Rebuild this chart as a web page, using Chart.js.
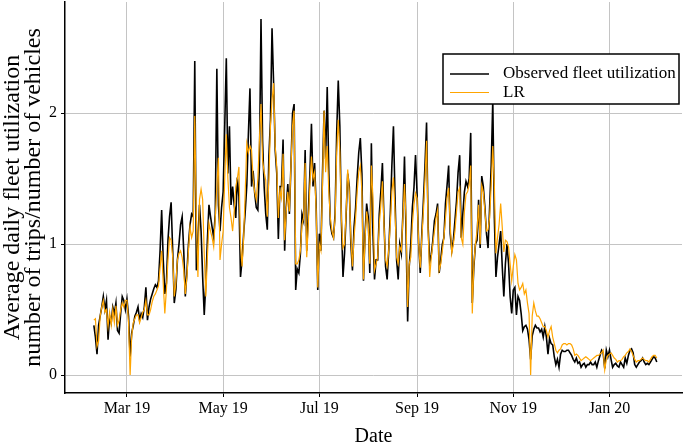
<!DOCTYPE html>
<html>
<head>
<meta charset="utf-8">
<title>Average daily fleet utilization</title>
<script src="https://cdn.jsdelivr.net/npm/chart.js@4.4.1/dist/chart.umd.min.js"></script>
<style>
  body { margin: 0; background: #ffffff; }
  #wrap { width: 685px; height: 443px; }
</style>
</head>
<body>
<div id="wrap"><canvas id="utilChart" width="685" height="443"></canvas></div>
<script>
"use strict"

// daily values, first value is startDate
const startDate = "2019-02-08";

const observedUtil = [
  0.38, 0.29, 0.16, 0.38, 0.45, 0.52, 0.60,
  0.50, 0.57, 0.27, 0.45, 0.40, 0.52, 0.47,
  0.55, 0.34, 0.32, 0.47, 0.60, 0.57, 0.50,
  0.58, 0.45, 0.14, 0.32, 0.38, 0.45, 0.48,
  0.52, 0.42, 0.47, 0.44, 0.52, 0.67, 0.42,
  0.52, 0.58, 0.62, 0.66, 0.69, 0.67, 0.72,
  0.95, 1.26, 0.88, 0.62, 0.70, 1.03, 1.21,
  1.32, 0.95, 0.55, 0.65, 0.88, 1.00, 1.15,
  1.21, 0.95, 0.60, 0.78, 1.00, 1.15, 1.23,
  1.21, 2.40, 0.80, 1.05, 1.30, 1.10, 0.75,
  0.46, 0.70, 1.03, 1.30, 1.21, 1.13, 1.05,
  1.23, 2.34, 1.30, 1.10, 1.28, 1.40, 1.90,
  2.42, 1.54, 1.90, 1.30, 1.44, 1.30, 1.20,
  1.51, 1.36, 0.75, 0.88, 1.08, 1.25, 1.45,
  1.84, 2.19, 1.44, 1.56, 1.39, 1.28, 1.26,
  1.60, 2.72, 1.79, 1.44, 1.23, 1.11, 1.67,
  1.95, 2.65, 2.23, 1.72, 1.54, 1.04, 1.44,
  1.44, 1.80, 0.95, 1.28, 1.46, 1.23, 1.60,
  2.00, 2.07, 0.65, 0.81, 0.78, 0.93, 1.23,
  1.18, 1.72, 0.95, 1.23, 1.54, 1.92, 1.44,
  1.62, 1.28, 0.65, 1.08, 0.95, 1.54, 2.02,
  1.65, 2.20, 1.55, 1.15, 1.08, 1.05, 1.23,
  1.85, 2.25, 1.90, 1.18, 0.75, 0.93, 1.23,
  1.54, 1.44, 1.00, 0.80, 1.13, 1.28, 1.51,
  1.70, 1.81, 1.54, 0.72, 1.08, 1.31, 1.21,
  0.78, 1.77, 1.08, 0.73, 0.88, 0.88, 1.23,
  1.40, 1.62, 1.18, 0.83, 0.73, 0.95, 1.23,
  1.60, 1.90, 1.36, 0.88, 0.73, 1.00, 0.93,
  1.23, 1.67, 1.08, 0.41, 0.83, 1.00, 1.28,
  1.43, 1.68, 1.38, 1.00, 0.78, 1.08, 1.33,
  1.60, 1.93, 1.13, 0.86, 0.92, 1.03, 1.18,
  1.23, 1.31, 0.78, 0.88, 1.00, 1.05, 1.31,
  1.45, 1.60, 1.08, 0.95, 1.03, 1.18, 1.33,
  1.55, 1.68, 1.05, 1.23, 1.40, 1.48, 1.44,
  1.50, 1.85, 0.55, 0.83, 1.00, 1.03, 1.34,
  0.97, 1.52, 1.44, 1.28, 1.08, 0.97, 1.28,
  1.60, 2.10, 1.20, 0.75, 0.90, 1.00, 1.10,
  0.83, 0.60, 0.85, 1.00, 0.85, 0.60, 0.47,
  0.65, 0.67, 0.46, 0.60, 0.57, 0.47, 0.34,
  0.37, 0.38, 0.35, 0.27, 0.12, 0.30, 0.35,
  0.38, 0.36, 0.36, 0.33, 0.35, 0.29, 0.37,
  0.29, 0.16, 0.28, 0.24, 0.23, 0.14, 0.08,
  0.12, 0.06, 0.16, 0.19, 0.18, 0.18, 0.19,
  0.19, 0.17, 0.15, 0.12, 0.10, 0.13, 0.09,
  0.10, 0.06, 0.08, 0.09, 0.06, 0.08, 0.08,
  0.10, 0.08, 0.08, 0.10, 0.06, 0.11, 0.15,
  0.19, 0.17, 0.05, 0.19, 0.14, 0.19, 0.12,
  0.06, 0.08, 0.09, 0.07, 0.06, 0.10, 0.08,
  0.06, 0.13, 0.09, 0.15, 0.19, 0.20, 0.17,
  0.08, 0.06, 0.08, 0.10, 0.11, 0.13, 0.10,
  0.08, 0.09, 0.08, 0.10, 0.12, 0.14, 0.13,
  0.10
];

const lrUtil = [
  0.42, 0.43, 0.22, 0.26, 0.45, 0.52, 0.57,
  0.48, 0.50, 0.37, 0.48, 0.38, 0.50, 0.40,
  0.53, 0.38, 0.42, 0.50, 0.55, 0.52, 0.57,
  0.57, 0.40, 0.00, 0.30, 0.40, 0.43, 0.46,
  0.46, 0.40, 0.44, 0.48, 0.50, 0.57, 0.46,
  0.46, 0.50, 0.56, 0.60, 0.62, 0.65, 0.68,
  0.82, 0.95, 0.70, 0.47, 0.65, 0.88, 1.05,
  1.03, 0.90, 0.60, 0.70, 0.88, 0.93, 0.95,
  0.90, 0.80, 0.62, 0.75, 0.95, 1.13, 1.05,
  1.10, 1.98, 1.20, 0.75, 1.34, 1.42, 1.34,
  0.93, 0.60, 0.90, 1.16, 1.10, 1.05, 0.98,
  1.20, 1.44, 1.66, 0.88, 1.00, 1.10, 1.50,
  1.84, 1.50, 1.28, 1.20, 1.10, 1.25, 1.44,
  1.50, 1.59, 1.00, 0.83, 1.05, 1.40, 1.77,
  1.70, 1.75, 1.72, 1.50, 1.40, 1.34, 1.50,
  1.80, 2.07, 1.64, 1.55, 1.49, 1.21, 1.50,
  1.90, 2.10, 2.23, 1.75, 1.59, 1.20, 1.41,
  1.35, 1.69, 1.03, 1.25, 1.40, 1.25, 1.60,
  1.90, 2.02, 0.85, 0.85, 0.88, 0.95, 1.15,
  1.20, 1.62, 0.90, 1.15, 1.45, 1.67, 1.50,
  1.55, 1.25, 0.67, 1.00, 0.95, 1.45, 2.02,
  1.55, 1.75, 1.40, 1.20, 1.10, 1.05, 1.20,
  1.70, 1.95, 1.70, 1.20, 0.97, 1.00, 1.25,
  1.57, 1.40, 1.05, 0.83, 1.05, 1.20, 1.40,
  1.55, 1.60, 1.40, 0.73, 1.05, 1.25, 1.15,
  0.85, 1.60, 1.35, 0.80, 0.85, 0.90, 1.15,
  1.30, 1.48, 1.15, 0.88, 0.83, 0.95, 1.15,
  1.40, 1.51, 1.25, 0.90, 0.85, 0.98, 0.95,
  1.20, 1.46, 1.20, 0.52, 0.85, 0.90, 1.15,
  1.30, 1.39, 1.35, 1.00, 0.82, 1.05, 1.25,
  1.50, 1.79, 1.10, 0.75, 0.90, 1.00, 1.10,
  1.20, 1.26, 0.80, 0.85, 0.95, 1.05, 1.20,
  1.35, 1.43, 1.15, 0.93, 1.00, 1.10, 1.25,
  1.40, 1.43, 1.05, 1.00, 1.25, 1.38, 1.40,
  1.45, 1.60, 0.47, 0.85, 1.00, 1.10, 1.30,
  1.00, 1.45, 1.40, 1.25, 1.10, 1.11, 1.20,
  1.45, 1.75, 1.45, 0.93, 1.05, 1.15, 1.31,
  1.13, 0.94, 1.03, 1.02, 0.98, 0.85, 0.72,
  0.83, 0.92, 0.88, 0.70, 0.65, 0.67, 0.70,
  0.62, 0.65, 0.55, 0.47, 0.00, 0.45, 0.55,
  0.49, 0.45, 0.45, 0.43, 0.40, 0.37, 0.37,
  0.34, 0.29, 0.34, 0.37, 0.29, 0.24, 0.19,
  0.17, 0.19, 0.20, 0.23, 0.24, 0.24, 0.23,
  0.24, 0.24, 0.23, 0.20, 0.15, 0.16, 0.15,
  0.13, 0.11, 0.12, 0.13, 0.14, 0.13, 0.12,
  0.11, 0.12, 0.13, 0.14, 0.15, 0.15, 0.16,
  0.17, 0.19, 0.04, 0.12, 0.15, 0.16, 0.17,
  0.15, 0.13, 0.12, 0.10, 0.11, 0.11, 0.12,
  0.14, 0.15, 0.17, 0.18, 0.20, 0.18, 0.15,
  0.12, 0.10, 0.11, 0.11, 0.12, 0.13, 0.12,
  0.11, 0.11, 0.10, 0.12, 0.14, 0.15, 0.15,
  0.13
];

const seriesNames = ["Observed fleet utilization", "LR"];
const tickDates = ["2019-03-01", "2019-05-01", "2019-07-01", "2019-09-01", "2019-11-01", "2020-01-01"];
const tickLabels = ["Mar 19", "May 19", "Jul 19", "Sep 19", "Nov 19", "Jan 20"];
const yTicks = [0, 1, 2];

const serif = "'Liberation Serif', 'Times New Roman', serif";

//helpers
function dayIndex(dateStr) {
  return Math.round((Date.parse(dateStr) - Date.parse(startDate)) / 86400000);
}

function toPoints(values) {
  return values.map((v, i) => ({ x: i, y: v }));
}

// legend drawn as a boxed key inside the plot, top right
const boxLegend = {
  id: "boxLegend",
  afterDatasetsDraw(chart) {
    const ctx = chart.ctx;
    const area = chart.chartArea;
    const left = area.right - 239;
    const top = area.top + 52;
    ctx.save();
    ctx.fillStyle = "#ffffff";
    ctx.fillRect(left, top, 236, 50);
    ctx.lineWidth = 1.5;
    ctx.strokeStyle = "#000000";
    ctx.strokeRect(left, top, 236, 50);

    chart.data.datasets.forEach((ds, i) => {
      const y = top + 20 + i * 18.5;
      ctx.beginPath();
      ctx.strokeStyle = ds.borderColor;
      ctx.lineWidth = ds.borderWidth;
      ctx.moveTo(left + 7, y);
      ctx.lineTo(left + 46, y);
      ctx.stroke();
      ctx.fillStyle = "#000000";
      ctx.font = "17px " + serif;
      ctx.textBaseline = "middle";
      ctx.fillText(ds.label, left + 60, y);
    });
    ctx.restore();
  }
};

const ctx = document.getElementById("utilChart").getContext("2d");

const utilChart = new Chart(ctx, {
  type: "line",
  data: {
    datasets: [{
      label: seriesNames[0],
      data: toPoints(observedUtil),
      borderColor: "#000000",
      borderWidth: 1.6,
      pointRadius: 0,
      tension: 0,
      order: 2
    }, {
      label: seriesNames[1],
      data: toPoints(lrUtil),
      borderColor: "#ffa500",
      borderWidth: 1.2,
      pointRadius: 0,
      tension: 0,
      order: 1
    }]
  },
  options: {
    responsive: false,
    animation: false,
    devicePixelRatio: 1,
    layout: { padding: { top: 2, right: 3, left: 0, bottom: 0 } },
    plugins: {
      legend: { display: false },
      tooltip: { enabled: false }
    },
    scales: {
      x: {
        type: "linear",
        min: -18.3,
        max: 373,
        afterBuildTicks: axis => { axis.ticks = tickDates.map(d => ({ value: dayIndex(d) })); },
        afterFit: axis => {
          axis.height = 50;
          axis.paddingLeft = 0;
          axis.paddingRight = 0;
        },
        ticks: {
          callback: (value, index) => tickLabels[index],
          font: { family: serif, size: 16 },
          color: "#000000",
          padding: 2,
          maxRotation: 0,
          autoSkip: false
        },
        grid: { color: "#c4c4c4", lineWidth: 1, tickLength: 4, tickColor: "#000000" },
        border: { display: true, color: "#000000", width: 1.5 },
        title: {
          display: true,
          text: "Date",
          color: "#000000",
          font: { family: serif, size: 20, lineHeight: 1 },
          padding: { top: 0, bottom: -3.5 }
        }
      },
      y: {
        min: -0.137,
        max: 2.85,
        afterBuildTicks: axis => { axis.ticks = yTicks.map(v => ({ value: v })); },
        afterFit: axis => {
          axis.width = 65;
          axis.paddingTop = 0;
          axis.paddingBottom = 0;
        },
        ticks: {
          font: { family: serif, size: 16 },
          color: "#000000",
          padding: 4
        },
        grid: { color: "#c4c4c4", lineWidth: 1, tickLength: 4, tickColor: "#000000" },
        border: { display: true, color: "#000000", width: 1.5 },
        title: {
          display: true,
          text: ["Average daily fleet utilization", "number of trips/number of vehicles"],
          color: "#000000",
          font: { family: serif, size: 24, lineHeight: 0.84 },
          padding: { top: 3, bottom: 0 }
        }
      }
    }
  },
  plugins: [boxLegend]
});
</script>
</body>
</html>
